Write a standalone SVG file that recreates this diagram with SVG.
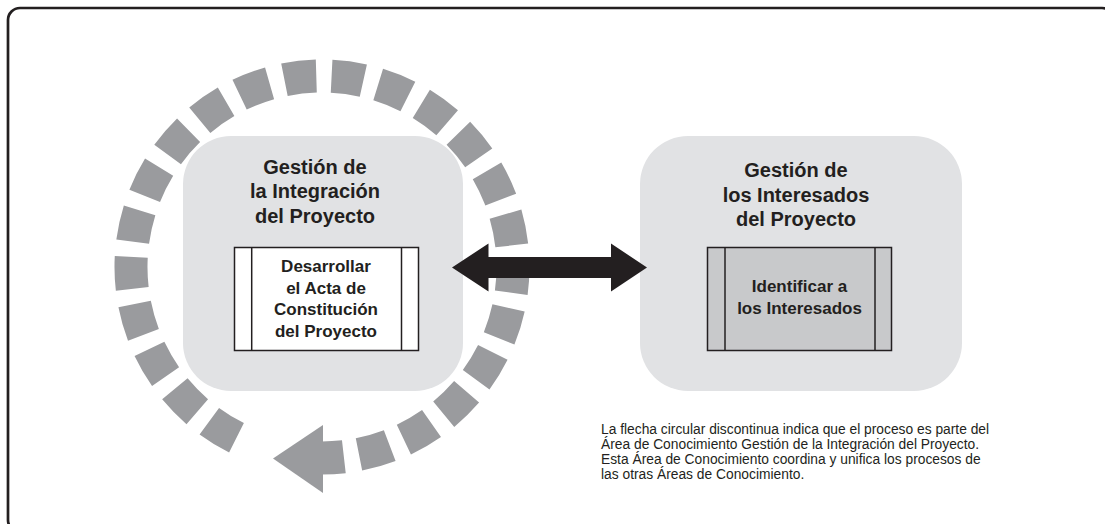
<svg xmlns="http://www.w3.org/2000/svg" width="1105" height="524" viewBox="0 0 1105 524">
  <style>
    .area { fill: #e1e2e4; }
    .title { font-family: "Liberation Sans", Arial, sans-serif; font-weight: bold; font-size: 20px; fill: #231f20; text-anchor: middle; }
    .proc { font-family: "Liberation Sans", Arial, sans-serif; font-weight: bold; font-size: 17px; fill: #231f20; text-anchor: middle; }
    .box { stroke: #231f20; stroke-width: 1.5; }
    .note { font-family: "Liberation Sans", Arial, sans-serif; font-size: 13.8px; fill: #231f20; }
    .dash { fill: none; stroke: #9a9b9e; stroke-width: 33; stroke-dasharray: 32 15.34; }
  </style>
  <rect x="0" y="0" width="1105" height="524" fill="#ffffff"/>
  <rect x="8" y="8" width="1106" height="524" rx="12" fill="none" stroke="#231f20" stroke-width="2.7"/>

  <g id="cycle-arrow">
    <path class="dash" d="M 236.5 437.8 A 191 191 0 1 1 322 458"/>
    <polygon points="323,425 323,493 273,458.5" fill="#9a9b9e"/>
  </g>

  <g id="node-integracion">
    <rect class="area" x="183" y="136" width="280" height="255" rx="48"/>
    <text class="title" x="315" y="173.5">Gestión de</text>
    <text class="title" x="315" y="198">la Integración</text>
    <text class="title" x="315" y="222.5">del Proyecto</text>
    <g id="proc-acta">
      <rect class="box" x="234.5" y="247.5" width="184" height="103" fill="#ffffff"/>
      <line class="box" x1="251.7" y1="247.5" x2="251.7" y2="350.5"/>
      <line class="box" x1="401.5" y1="247.5" x2="401.5" y2="350.5"/>
      <text class="proc" x="326" y="272">Desarrollar</text>
      <text class="proc" x="326" y="293.5">el Acta de</text>
      <text class="proc" x="326" y="315">Constitución</text>
      <text class="proc" x="326" y="336.5">del Proyecto</text>
    </g>
  </g>

  <g id="node-interesados">
    <rect class="area" x="640" y="136" width="322" height="255" rx="48"/>
    <text class="title" x="796" y="177">Gestión de</text>
    <text class="title" x="796" y="201.5">los Interesados</text>
    <text class="title" x="796" y="225.5">del Proyecto</text>
    <g id="proc-identificar">
      <rect class="box" x="707.5" y="247.5" width="184" height="103" fill="#c8c9cb"/>
      <line class="box" x1="725" y1="247.5" x2="725" y2="350.5"/>
      <line class="box" x1="875" y1="247.5" x2="875" y2="350.5"/>
      <text class="proc" x="799.5" y="291.5">Identificar a</text>
      <text class="proc" x="799.5" y="313.5">los Interesados</text>
    </g>
  </g>

  <g id="connectors">
    <polygon points="452,267.5 488.5,243.5 488.5,257 611,257 611,243.5 647,267.5 611,291.5 611,278 488.5,278 488.5,291.5" fill="#231f20"/>
  </g>

  <g id="note">
    <text class="note" x="601" y="434">La flecha circular discontinua indica que el proceso es parte del</text>
    <text class="note" x="601" y="449">Área de Conocimiento Gestión de la Integración del Proyecto.</text>
    <text class="note" x="601" y="464">Esta Área de Conocimiento coordina y unifica los procesos de</text>
    <text class="note" x="601" y="478.5">las otras Áreas de Conocimiento.</text>
  </g>
</svg>
